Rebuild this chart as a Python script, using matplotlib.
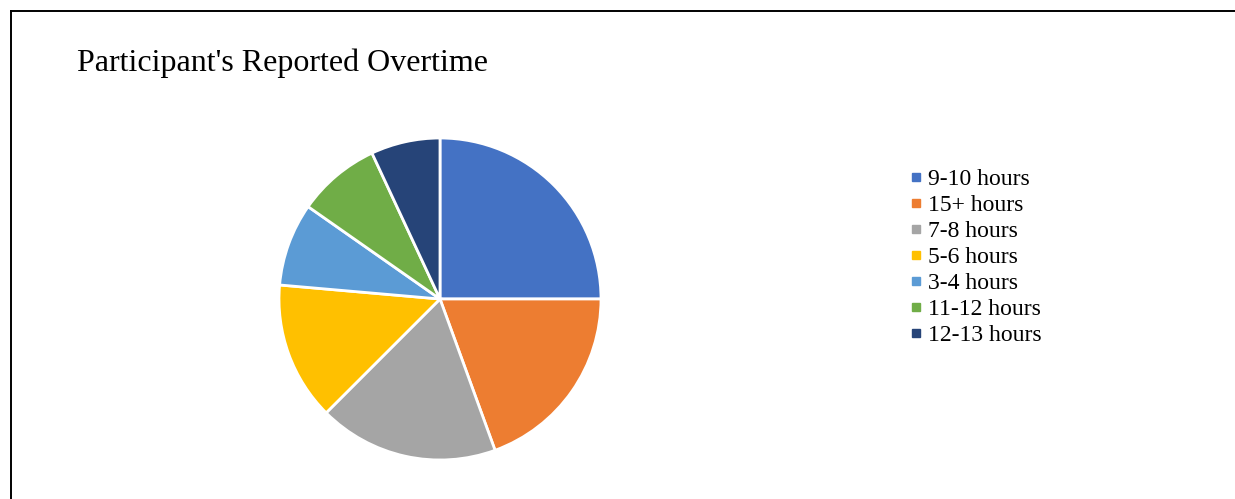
import matplotlib
matplotlib.use("Agg")
from matplotlib import pyplot as plt
from matplotlib.lines import Line2D

labels = ['9-10 hours', '15+ hours', '7-8 hours', '5-6 hours',
          '3-4 hours', '11-12 hours', '12-13 hours']
counts = [18, 14, 13, 10, 6, 6, 5]
colors = ['#4472C4', '#ED7D31', '#A5A5A5', '#FFC000',
          '#5B9BD5', '#70AD47', '#264478']

W, H = 1235, 499
plt.rcParams['font.family'] = ['Liberation Serif', 'DejaVu Serif']
fig = plt.figure(figsize=(W / 100, H / 100), dpi=100)

# chart frame: only the top and left edges show
fig.add_artist(Line2D([11 / W, 1], [1 - 11 / H, 1 - 11 / H], color='black', lw=1.4,
                      transform=fig.transFigure))
fig.add_artist(Line2D([11 / W, 11 / W], [0, 1 - 11 / H], color='black', lw=1.4,
                      transform=fig.transFigure))

fig.text(77 / W, 1 - 63 / H, "Participant's Reported Overtime", fontsize=23,
         va='center', ha='left')

cx, cy, r = 440, 299, 161
ax = fig.add_axes([(cx - r) / W, (H - cy - r) / H, 2 * r / W, 2 * r / H])
wedges, _ = ax.pie(counts, colors=colors, startangle=90, counterclock=False,
                   radius=1, wedgeprops=dict(edgecolor='white', linewidth=2))
ax.set_xlim(-1, 1)
ax.set_ylim(-1, 1)
ax.set_aspect('auto')
ax.axis('off')

handles = [Line2D([], [], marker='s', linestyle='none', markersize=6,
                  markerfacecolor=c, markeredgecolor=c) for c in colors]
fig.legend(handles, labels, loc='upper left', bbox_to_anchor=(898 / W, 1 - 157 / H),
           frameon=False, fontsize=17, handlelength=0.5, handletextpad=0.25,
           labelspacing=0.19, borderpad=0)

fig.savefig('out.png', dpi=100)
